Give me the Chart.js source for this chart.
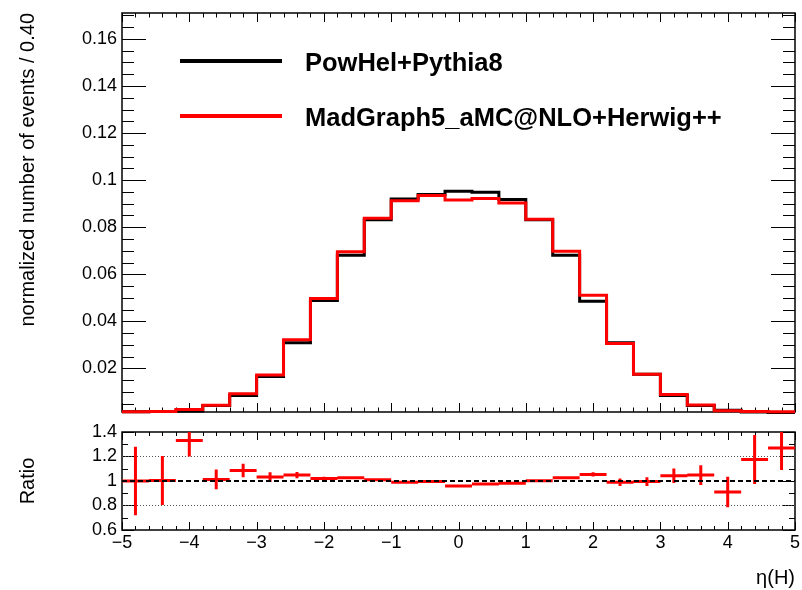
<!DOCTYPE html>
<html>
<head>
<meta charset="utf-8">
<script src="https://cdn.jsdelivr.net/npm/chart.js@4.4.1/dist/chart.umd.min.js"></script>
<style>
  html, body { margin: 0; padding: 0; background: #fff; }
  body { width: 802px; height: 590px; position: relative; overflow: hidden;
         font-family: "Liberation Sans", Arial, Helvetica, sans-serif; }
  #top { position: absolute; left: 0; top: 0; width: 802px; height: 425px; }
  #bot { position: absolute; left: 0; top: 420px; width: 802px; height: 170px; }
  .leg-line { position: absolute; left: 180px; width: 102px; height: 4px; }
  .leg-text { position: absolute; left: 305px; font-weight: bold; font-size: 25.5px;
              line-height: 30px; color: #000; white-space: nowrap; }
</style>
</head>
<body>
<div id="top"><canvas id="mainChart"></canvas></div>
<div id="bot"><canvas id="ratioChart"></canvas></div>

<div class="leg-line" style="top:59px; background:#000;"></div>
<div class="leg-text" style="top:47px;">PowHel+Pythia8</div>
<div class="leg-line" style="top:114px; background:#ff0000;"></div>
<div class="leg-text" style="top:102px;">MadGraph5_aMC@NLO+Herwig++</div>

<script>
// bin edges of eta(H), width 0.40
const binEdges = [-5, -4.6, -4.2, -3.8, -3.4, -3, -2.6, -2.2, -1.8, -1.4, -1, -0.6, -0.2,
                  0.2, 0.6, 1, 1.4, 1.8, 2.2, 2.6, 3, 3.4, 3.8, 4.2, 4.6, 5];
const binCenters = [-4.8, -4.4, -4, -3.6, -3.2, -2.8, -2.4, -2, -1.6, -1.2, -0.8, -0.4, 0,
                    0.4, 0.8, 1.2, 1.6, 2, 2.4, 2.8, 3.2, 3.6, 4, 4.4, 4.8];

// normalized number of events per bin
const powhelPythia = [0.0016, 0.0017, 0.0019, 0.0043, 0.0085, 0.0166, 0.0309, 0.0489, 0.0681,
                      0.0832, 0.0920, 0.0939, 0.0953, 0.0949, 0.0918, 0.0832, 0.0681, 0.0485,
                      0.0309, 0.0175, 0.0085, 0.0043, 0.0022, 0.0015, 0.0013];
const madgraphHerwig = [0.0016, 0.0017, 0.0026, 0.0044, 0.0092, 0.0172, 0.0322, 0.0497, 0.0696,
                        0.0838, 0.0912, 0.0935, 0.0916, 0.0922, 0.0903, 0.0834, 0.0698, 0.0511,
                        0.0306, 0.0175, 0.0089, 0.0045, 0.0020, 0.0017, 0.0016];

// ratio panel
const ratioValues = [1.00, 1.005, 1.33, 1.013, 1.086, 1.032, 1.048, 1.02, 1.027, 1.01, 0.99, 0.995,
                     0.96, 0.975, 0.982, 1.003, 1.027, 1.054, 0.99, 0.995, 1.043, 1.048, 0.91, 1.175, 1.27];
const ratioErrors = [0.28, 0.20, 0.13, 0.08, 0.055, 0.04, 0.025, 0.015, 0.012, 0.01, 0.008, 0.007,
                     0.008, 0.008, 0.01, 0.01, 0.012, 0.018, 0.03, 0.035, 0.06, 0.08, 0.125, 0.2, 0.18];
const refLines = [0.8, 1.0, 1.2];

// tick labels
const mainYTicks = [0.02, 0.04, 0.06, 0.08, 0.1, 0.12, 0.14, 0.16];
const ratioYTicks = [0.6, 0.8, 1, 1.2, 1.4];
const etaTicks = [-5, -4, -3, -2, -1, 0, 1, 2, 3, 4, 5];

Chart.defaults.font.family = "'Liberation Sans', Arial, Helvetica, sans-serif";
Chart.defaults.color = '#000';

function histPoints(vals) {
  const pts = vals.map((v, i) => ({ x: binEdges[i], y: v }));
  pts.push({ x: binEdges[binEdges.length - 1], y: vals[vals.length - 1] });
  return pts;
}

function errorBarPoints() {
  const pts = [];
  binCenters.forEach((c, i) => {
    const r = ratioValues[i], e = ratioErrors[i];
    pts.push({ x: binEdges[i], y: r }, { x: binEdges[i + 1], y: r }, { x: c, y: null });
    pts.push({ x: c, y: r - e }, { x: c, y: r + e }, { x: c, y: null });
  });
  return pts;
}

// keep the plot frame where we put it: no extra room for edge labels
function fixSize(prop, size) {
  return s => {
    s[prop] = size;
    s.paddingTop = 0; s.paddingBottom = 0; s.paddingLeft = 0; s.paddingRight = 0;
  };
}

// ROOT-like frame with inward ticks
const frameTicks = {
  id: 'frameTicks',
  beforeDatasetsDraw(chart, args, o) {
    const { ctx, chartArea: a } = chart;
    const x = chart.scales.x, y = chart.scales.y;
    ctx.save();
    ctx.strokeStyle = '#000';
    ctx.lineWidth = 1;
    ctx.beginPath();
    for (let k = Math.ceil(x.min / o.xMinor - 1e-6); k * o.xMinor <= x.max + 1e-6; k++) {
      const v = k * o.xMinor;
      const major = Math.abs(v / o.xMajor - Math.round(v / o.xMajor)) < 1e-6;
      const len = major ? o.xMajLen : o.xMinLen;
      const px = Math.round(x.getPixelForValue(v)) + 0.5;
      ctx.moveTo(px, a.bottom); ctx.lineTo(px, a.bottom - len);
      ctx.moveTo(px, a.top); ctx.lineTo(px, a.top + len);
    }
    for (let k = Math.ceil(y.min / o.yMinor - 1e-6); k * o.yMinor <= y.max + 1e-6; k++) {
      const v = k * o.yMinor;
      const major = Math.abs(v / o.yMajor - Math.round(v / o.yMajor)) < 1e-6;
      const len = major ? o.yMajLen : o.yMinLen;
      const py = Math.round(y.getPixelForValue(v)) + 0.5;
      ctx.moveTo(a.left, py); ctx.lineTo(a.left + len, py);
      ctx.moveTo(a.right, py); ctx.lineTo(a.right - len, py);
    }
    ctx.stroke();
    ctx.lineWidth = 1.5;
    ctx.strokeRect(a.left, a.top, a.width, a.height);
    ctx.restore();
  }
};

const fmtEta = v => (v < 0 ? '\u2212' + Math.abs(v) : String(v));

new Chart(document.getElementById('mainChart'), {
  type: 'line',
  data: {
    datasets: [
      {
        label: 'MadGraph5_aMC@NLO+Herwig++',
        data: histPoints(madgraphHerwig),
        borderColor: '#ff0000', borderWidth: 3, stepped: 'before',
        pointRadius: 0, fill: false, order: 0, clip: 3
      },
      {
        label: 'PowHel+Pythia8',
        data: histPoints(powhelPythia),
        borderColor: '#000000', borderWidth: 3, stepped: 'before',
        pointRadius: 0, fill: false, order: 1, clip: 3
      }
    ]
  },
  options: {
    responsive: true,
    maintainAspectRatio: false,
    animation: false,
    events: [],
    layout: { padding: { top: 13, right: 7, bottom: 13, left: 0 } },
    plugins: {
      legend: { display: false },
      tooltip: { enabled: false },
      frameTicks: { xMajor: 1, xMinor: 0.2, xMajLen: 9, xMinLen: 4.5,
                    yMajor: 0.02, yMinor: 0.005, yMajLen: 24, yMinLen: 12 }
    },
    scales: {
      x: { type: 'linear', min: -5, max: 5, display: false },
      y: {
        type: 'linear', min: 0.0015, max: 0.171,
        grid: { display: false, drawTicks: false },
        border: { display: false },
        afterBuildTicks: s => { s.ticks = mainYTicks.map(v => ({ value: v })); },
        afterFit: fixSize('width', 122),
        ticks: { font: { size: 18 }, padding: 5, autoSkip: false,
                 callback: v => String(+v.toFixed(2)) },
        title: {
          display: true, text: 'normalized number of events / 0.40',
          align: 'end', font: { size: 20 }, padding: { top: 16, bottom: 0 }
        }
      }
    }
  },
  plugins: [frameTicks]
});

new Chart(document.getElementById('ratioChart'), {
  type: 'line',
  data: {
    datasets: [
      {
        label: 'unity',
        data: [{ x: -5, y: refLines[1] }, { x: 5, y: refLines[1] }],
        borderColor: '#000', borderWidth: 2, borderDash: [5, 3],
        pointRadius: 0, order: 0
      },
      {
        label: 'ratio',
        data: errorBarPoints(),
        borderColor: '#ff0000', borderWidth: 3, borderCapStyle: 'butt',
        spanGaps: false, pointRadius: 0, order: 1
      },
      {
        label: 'upper',
        data: [{ x: -5, y: refLines[2] }, { x: 5, y: refLines[2] }],
        borderColor: '#555', borderWidth: 1, borderDash: [1, 2],
        pointRadius: 0, order: 2
      },
      {
        label: 'lower',
        data: [{ x: -5, y: refLines[0] }, { x: 5, y: refLines[0] }],
        borderColor: '#555', borderWidth: 1, borderDash: [1, 2],
        pointRadius: 0, order: 2
      }
    ]
  },
  options: {
    responsive: true,
    maintainAspectRatio: false,
    animation: false,
    events: [],
    layout: { padding: { top: 12, right: 7, bottom: 0, left: 0 } },
    plugins: {
      legend: { display: false },
      tooltip: { enabled: false },
      frameTicks: { xMajor: 1, xMinor: 0.2, xMajLen: 8, xMinLen: 4,
                    yMajor: 0.2, yMinor: 0.1, yMajLen: 12, yMinLen: 6 }
    },
    scales: {
      x: {
        type: 'linear', min: -5, max: 5,
        grid: { display: false, drawTicks: false },
        border: { display: false },
        afterBuildTicks: s => { s.ticks = etaTicks.map(v => ({ value: v })); },
        afterFit: fixSize('height', 60),
        ticks: { font: { size: 18 }, padding: 2, autoSkip: false, maxRotation: 0,
                 callback: v => fmtEta(v) },
        title: {
          display: true, text: '\u03b7(H)', align: 'end',
          font: { size: 20 }, padding: { top: 0, bottom: 0 }
        }
      },
      y: {
        type: 'linear', min: 0.6, max: 1.4,
        grid: { display: false, drawTicks: false },
        border: { display: false },
        afterBuildTicks: s => { s.ticks = ratioYTicks.map(v => ({ value: v })); },
        afterFit: fixSize('width', 122),
        ticks: { font: { size: 18 }, padding: 5, autoSkip: false,
                 callback: v => String(+v.toFixed(1)) },
        title: {
          display: true, text: 'Ratio', align: 'center',
          font: { size: 20 }, padding: { top: 16, bottom: 0 }
        }
      }
    }
  },
  plugins: [frameTicks]
});
</script>
</body>
</html>
